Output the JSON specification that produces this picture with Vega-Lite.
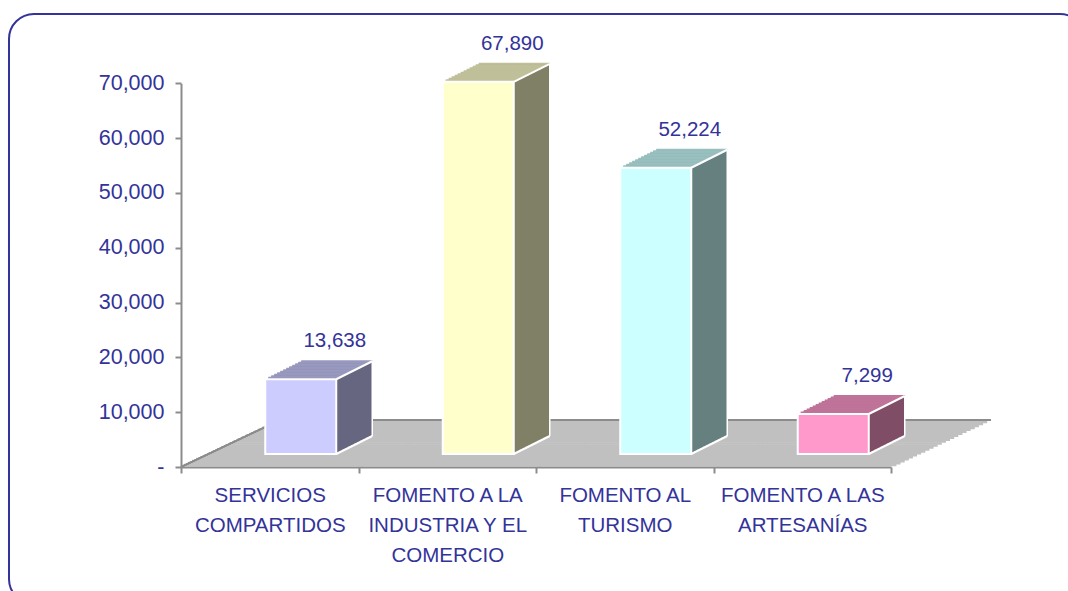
{
  "$schema": "https://vega.github.io/schema/vega-lite/v6.json",
  "width": 1076,
  "height": 590,
  "padding": {"left": 9, "top": 14, "right": 0, "bottom": 0},
  "autosize": {"type": "none"},
  "background": "white",
  "config": {
    "view": {"stroke": "#333399", "strokeWidth": 2, "cornerRadius": 25, "fill": "white"},
    "font": "Liberation Sans",
    "rule": {"strokeCap": "square"}
  },
  "data": {
    "values": [
      {"cat": "SERVICIOS|COMPARTIDOS", "value": 13638},
      {"cat": "FOMENTO A LA|INDUSTRIA Y EL|COMERCIO", "value": 67890},
      {"cat": "FOMENTO AL|TURISMO", "value": 52224},
      {"cat": "FOMENTO A LAS|ARTESANÍAS", "value": 7299}
    ]
  },
  "encoding": {
    "x": {
      "field": "cat", "type": "nominal", "sort": null,
      "scale": {"range": [172, 882], "paddingInner": 0, "paddingOuter": 0},
      "axis": {
        "title": null, "orient": "bottom", "offset": -137, "zindex": 1,
        "domainColor": "#8c8c8c", "domainWidth": 2, "tickColor": "#8c8c8c", "tickWidth": 2, "tickSize": 6,
        "tickBand": "extent", "labelAngle": 0, "labelExpr": "split(datum.label, '|')",
        "labelLineHeight": 30, "labelFontSize": 20.5, "labelColor": "#333399", "labelFont": "Liberation Sans",
        "labelPadding": 12, "labelLimit": 0
      }
    },
    "y": {
      "field": "value", "type": "quantitative",
      "scale": {"domain": [0, 70000], "range": [453, 69.3], "nice": false, "zero": true},
      "axis": {
        "title": null, "orient": "left", "offset": -172, "zindex": 1, "grid": false,
        "values": [0, 10000, 20000, 30000, 40000, 50000, 60000, 70000],
        "labelExpr": "datum.value === 0 ? '-' : format(datum.value, ',')",
        "domainColor": "#8c8c8c", "domainWidth": 2, "tickColor": "#8c8c8c", "tickWidth": 2, "tickSize": 6,
        "labelFontSize": 21.5, "labelColor": "#333399", "labelFont": "Liberation Sans", "labelPadding": 11
      }
    }
  },
  "layer": [
    {
      "encoding": {"x2": {"field": "cat"}, "y": {"datum": 0}},
      "layer": [
        {"mark": {"type": "rule", "color": "#c0c0c0", "strokeWidth": 2.6, "xOffset": -84.625, "x2Offset": 92.875, "yOffset": -1.958}},
        {"mark": {"type": "rule", "color": "#c0c0c0", "strokeWidth": 2.6, "xOffset": -80.5, "x2Offset": 97, "yOffset": -3.917}},
        {"mark": {"type": "rule", "color": "#c0c0c0", "strokeWidth": 2.6, "xOffset": -76.375, "x2Offset": 101.125, "yOffset": -5.875}},
        {"mark": {"type": "rule", "color": "#c0c0c0", "strokeWidth": 2.6, "xOffset": -72.25, "x2Offset": 105.25, "yOffset": -7.833}},
        {"mark": {"type": "rule", "color": "#c0c0c0", "strokeWidth": 2.6, "xOffset": -68.125, "x2Offset": 109.375, "yOffset": -9.792}},
        {"mark": {"type": "rule", "color": "#c0c0c0", "strokeWidth": 2.6, "xOffset": -64, "x2Offset": 113.5, "yOffset": -11.75}},
        {"mark": {"type": "rule", "color": "#c0c0c0", "strokeWidth": 2.6, "xOffset": -59.875, "x2Offset": 117.625, "yOffset": -13.708}},
        {"mark": {"type": "rule", "color": "#c0c0c0", "strokeWidth": 2.6, "xOffset": -55.75, "x2Offset": 121.75, "yOffset": -15.667}},
        {"mark": {"type": "rule", "color": "#c0c0c0", "strokeWidth": 2.6, "xOffset": -51.625, "x2Offset": 125.875, "yOffset": -17.625}},
        {"mark": {"type": "rule", "color": "#c0c0c0", "strokeWidth": 2.6, "xOffset": -47.5, "x2Offset": 130, "yOffset": -19.583}},
        {"mark": {"type": "rule", "color": "#c0c0c0", "strokeWidth": 2.6, "xOffset": -43.375, "x2Offset": 134.125, "yOffset": -21.542}},
        {"mark": {"type": "rule", "color": "#c0c0c0", "strokeWidth": 2.6, "xOffset": -39.25, "x2Offset": 138.25, "yOffset": -23.5}},
        {"mark": {"type": "rule", "color": "#c0c0c0", "strokeWidth": 2.6, "xOffset": -35.125, "x2Offset": 142.375, "yOffset": -25.458}},
        {"mark": {"type": "rule", "color": "#c0c0c0", "strokeWidth": 2.6, "xOffset": -31, "x2Offset": 146.5, "yOffset": -27.417}},
        {"mark": {"type": "rule", "color": "#c0c0c0", "strokeWidth": 2.6, "xOffset": -26.875, "x2Offset": 150.625, "yOffset": -29.375}},
        {"mark": {"type": "rule", "color": "#c0c0c0", "strokeWidth": 2.6, "xOffset": -22.75, "x2Offset": 154.75, "yOffset": -31.333}},
        {"mark": {"type": "rule", "color": "#c0c0c0", "strokeWidth": 2.6, "xOffset": -18.625, "x2Offset": 158.875, "yOffset": -33.292}},
        {"mark": {"type": "rule", "color": "#c0c0c0", "strokeWidth": 2.6, "xOffset": -14.5, "x2Offset": 163, "yOffset": -35.25}},
        {"mark": {"type": "rule", "color": "#c0c0c0", "strokeWidth": 2.6, "xOffset": -10.375, "x2Offset": 167.125, "yOffset": -37.208}},
        {"mark": {"type": "rule", "color": "#c0c0c0", "strokeWidth": 2.6, "xOffset": -6.25, "x2Offset": 171.25, "yOffset": -39.167}},
        {"mark": {"type": "rule", "color": "#c0c0c0", "strokeWidth": 2.6, "xOffset": -2.125, "x2Offset": 175.375, "yOffset": -41.125}},
        {"mark": {"type": "rule", "color": "#c0c0c0", "strokeWidth": 2.6, "xOffset": 2, "x2Offset": 179.5, "yOffset": -43.083}},
        {"mark": {"type": "rule", "color": "#c0c0c0", "strokeWidth": 2.6, "xOffset": 6.125, "x2Offset": 183.625, "yOffset": -45.042}},
        {"mark": {"type": "rule", "color": "#8c8c8c", "strokeWidth": 2, "xOffset": 10.25, "x2Offset": 187.75, "yOffset": -47}}
      ]
    },
    {
      "mark": {"type": "rule", "color": "#8c8c8c", "strokeWidth": 1.5, "strokeCap": "butt", "xOffset": -88.75, "x2Offset": 10.25, "y2Offset": -47},
      "encoding": {
        "x": {"datum": "SERVICIOS|COMPARTIDOS"},
        "x2": {"datum": "SERVICIOS|COMPARTIDOS"},
        "y": {"datum": 0},
        "y2": {"datum": 0}
      }
    },
    {
      "encoding": {
        "y2": {"datum": 0},
        "fill": {
          "field": "cat", "type": "nominal", "legend": null,
          "scale": {
            "domain": ["SERVICIOS|COMPARTIDOS", "FOMENTO A LA|INDUSTRIA Y EL|COMERCIO", "FOMENTO AL|TURISMO", "FOMENTO A LAS|ARTESANÍAS"],
            "range": ["#666680", "#808066", "#668080", "#804d66"]
          }
        }
      },
      "layer": [
        {"mark": {"type": "bar", "width": {"band": 0.4}, "xOffset": 34, "yOffset": -14.5, "y2Offset": -14.5}},
        {"mark": {"type": "bar", "width": {"band": 0.4}, "xOffset": 37, "yOffset": -16, "y2Offset": -16}},
        {"mark": {"type": "bar", "width": {"band": 0.4}, "xOffset": 40, "yOffset": -17.5, "y2Offset": -17.5}},
        {"mark": {"type": "bar", "width": {"band": 0.4}, "xOffset": 43, "yOffset": -19, "y2Offset": -19}},
        {"mark": {"type": "bar", "width": {"band": 0.4}, "xOffset": 46, "yOffset": -20.5, "y2Offset": -20.5}},
        {"mark": {"type": "bar", "width": {"band": 0.4}, "xOffset": 49, "yOffset": -22, "y2Offset": -22}},
        {"mark": {"type": "bar", "width": {"band": 0.4}, "xOffset": 52, "yOffset": -23.5, "y2Offset": -23.5}},
        {"mark": {"type": "bar", "width": {"band": 0.4}, "xOffset": 55, "yOffset": -25, "y2Offset": -25}},
        {"mark": {"type": "bar", "width": {"band": 0.4}, "xOffset": 58, "yOffset": -26.5, "y2Offset": -26.5}},
        {"mark": {"type": "bar", "width": {"band": 0.4}, "xOffset": 61, "yOffset": -28, "y2Offset": -28}},
        {"mark": {"type": "bar", "width": {"band": 0.4}, "xOffset": 64, "yOffset": -29.5, "y2Offset": -29.5}},
        {"mark": {"type": "bar", "width": {"band": 0.4}, "xOffset": 67, "yOffset": -31, "y2Offset": -31}}
      ]
    },
    {
      "encoding": {
        "x2": {"field": "cat"},
        "stroke": {
          "field": "cat", "type": "nominal", "legend": null,
          "scale": {
            "domain": ["SERVICIOS|COMPARTIDOS", "FOMENTO A LA|INDUSTRIA Y EL|COMERCIO", "FOMENTO AL|TURISMO", "FOMENTO A LAS|ARTESANÍAS"],
            "range": ["#9999bf", "#bfbf99", "#99bfbf", "#bf7399"]
          }
        }
      },
      "layer": [
        {"mark": {"type": "rule", "strokeCap": "butt", "strokeWidth": 2.2, "xOffset": -1.5, "x2Offset": 69.5, "yOffset": -14.5}},
        {"mark": {"type": "rule", "strokeCap": "butt", "strokeWidth": 2.2, "xOffset": 1.5, "x2Offset": 72.5, "yOffset": -16}},
        {"mark": {"type": "rule", "strokeCap": "butt", "strokeWidth": 2.2, "xOffset": 4.5, "x2Offset": 75.5, "yOffset": -17.5}},
        {"mark": {"type": "rule", "strokeCap": "butt", "strokeWidth": 2.2, "xOffset": 7.5, "x2Offset": 78.5, "yOffset": -19}},
        {"mark": {"type": "rule", "strokeCap": "butt", "strokeWidth": 2.2, "xOffset": 10.5, "x2Offset": 81.5, "yOffset": -20.5}},
        {"mark": {"type": "rule", "strokeCap": "butt", "strokeWidth": 2.2, "xOffset": 13.5, "x2Offset": 84.5, "yOffset": -22}},
        {"mark": {"type": "rule", "strokeCap": "butt", "strokeWidth": 2.2, "xOffset": 16.5, "x2Offset": 87.5, "yOffset": -23.5}},
        {"mark": {"type": "rule", "strokeCap": "butt", "strokeWidth": 2.2, "xOffset": 19.5, "x2Offset": 90.5, "yOffset": -25}},
        {"mark": {"type": "rule", "strokeCap": "butt", "strokeWidth": 2.2, "xOffset": 22.5, "x2Offset": 93.5, "yOffset": -26.5}},
        {"mark": {"type": "rule", "strokeCap": "butt", "strokeWidth": 2.2, "xOffset": 25.5, "x2Offset": 96.5, "yOffset": -28}},
        {"mark": {"type": "rule", "strokeCap": "butt", "strokeWidth": 2.2, "xOffset": 28.5, "x2Offset": 99.5, "yOffset": -29.5}},
        {"mark": {"type": "rule", "strokeCap": "butt", "strokeWidth": 2, "xOffset": 31.5, "x2Offset": 102.5, "yOffset": -31}}
      ]
    },
    {
      "mark": {"type": "bar", "width": {"band": 0.4}, "xOffset": 31, "yOffset": -13, "y2Offset": -13, "stroke": "white", "strokeWidth": 2},
      "encoding": {
        "y2": {"datum": 0},
        "fill": {
          "field": "cat", "type": "nominal", "legend": null,
          "scale": {
            "domain": ["SERVICIOS|COMPARTIDOS", "FOMENTO A LA|INDUSTRIA Y EL|COMERCIO", "FOMENTO AL|TURISMO", "FOMENTO A LAS|ARTESANÍAS"],
            "range": ["#ccccff", "#ffffcc", "#ccffff", "#ff99cc"]
          }
        }
      }
    },
    {
      "mark": {"type": "rule", "color": "white", "strokeCap": "butt", "strokeWidth": 2, "xOffset": 66.5, "x2Offset": 102.5, "yOffset": -13, "y2Offset": -31},
      "encoding": {"x2": {"field": "cat"}, "y2": {"field": "value"}}
    },
    {
      "mark": {"type": "rule", "color": "white", "strokeCap": "butt", "strokeWidth": 2, "xOffset": 66.5, "x2Offset": 102.5, "yOffset": -13, "y2Offset": -31},
      "encoding": {"x2": {"field": "cat"}, "y": {"datum": 0}, "y2": {"datum": 0}}
    },
    {
      "mark": {"type": "rule", "color": "white", "strokeCap": "butt", "strokeWidth": 1.5, "xOffset": 102.5, "yOffset": -31, "y2Offset": -31},
      "encoding": {"y2": {"datum": 0}}
    },
    {
      "mark": {"type": "text", "xOffset": 65, "yOffset": -51, "align": "center", "baseline": "middle", "fontSize": 20.5, "color": "#333399", "font": "Liberation Sans"},
      "encoding": {"text": {"field": "value", "type": "quantitative", "format": ","}}
    }
  ],
  "resolve": {"scale": {"fill": "independent", "stroke": "independent"}}
}
